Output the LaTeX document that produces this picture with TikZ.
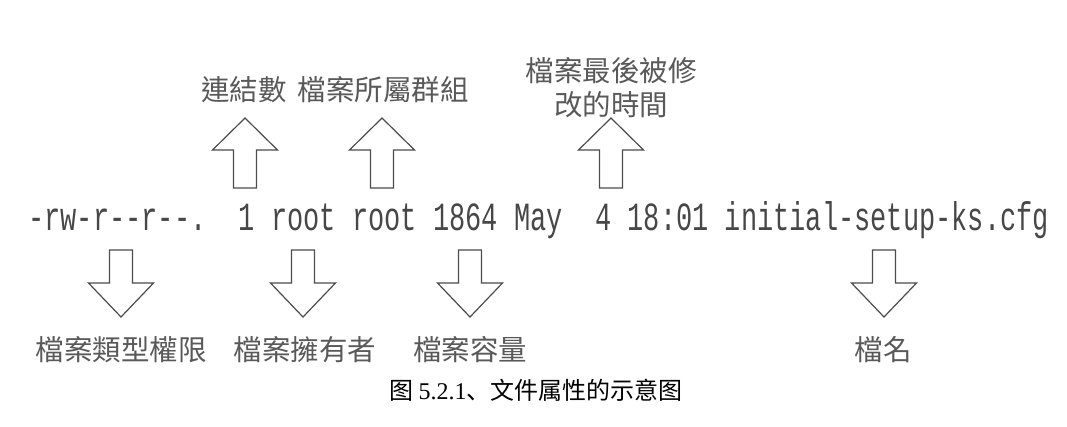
\documentclass[tikz,border=0pt]{standalone}
\usepackage{fontspec}
\usepackage{tikz}
\newfontfamily\tcfont{Noto Sans CJK TC}
\newfontfamily\scfont{Noto Sans CJK SC}
\newfontfamily\lsfont[FakeStretch=0.675]{Liberation Mono}
\newfontfamily\capnum{Liberation Serif}

\tikzset{
  lbl/.style={font=\tcfont\fontsize{28.5}{34}\selectfont, text=black!65, inner sep=0pt, align=center},
  blk/.style={draw=black!70, fill=white, line width=1.2pt, line join=miter},
  uparr/.pic={\draw[blk] (0,0) -- (32.5,32) -- (11.5,32) -- (11.5,70) -- (-11.5,70) -- (-11.5,32) -- (-32.5,32) -- cycle;},
  downarr/.pic={\draw[blk] (0,0) -- (32.5,-34) -- (11.5,-34) -- (11.5,-67) -- (-11.5,-67) -- (-11.5,-34) -- (-32.5,-34) -- cycle;}
}

\begin{document}
\begin{tikzpicture}[x=1pt, y=-1pt]
			\useasboundingbox (0,0) rectangle (1067,426);
			
			% The ls -l line
			\node[anchor=base west, inner sep=0pt, text=black!72, font=\lsfont\fontsize{40}{40}\selectfont] (line) at (28,230) {-rw-r-{}-r-{}-.\ \ 1 root root 1864 May\ \ 4 18:01 initial-setup-ks.cfg};
			
			% Arrow tips
			\coordinate (lnkTip) at (245,118);
			\coordinate (grpTip) at (382,118);
			\coordinate (timeTip) at (611,118);
			\coordinate (permTip) at (121,317);
			\coordinate (ownTip) at (303,317);
			\coordinate (sizeTip) at (470,317);
			\coordinate (nameTip) at (884,317);
			
			% Labels above
			\node[lbl] (lnk) at (244,90) {連結數};
			\node[lbl] (grp) at (383,90) {檔案所屬群組};
			\node[lbl] (mtime) at (611,88) {檔案最後被修\\改的時間};
			
			% Labels below
			\node[lbl] (perm) at (121,350) {檔案類型權限};
			\node[lbl] (own) at (305,350) {檔案擁有者};
			\node[lbl] (size) at (470,350) {檔案容量};
			\node[lbl] (fname) at (883,350) {檔名};
			
			% Block arrows
			\pic at (lnkTip) {uparr};
			\pic at (grpTip) {uparr};
			\pic at (timeTip) {uparr};
			\pic at (permTip) {downarr};
			\pic at (ownTip) {downarr};
			\pic at (sizeTip) {downarr};
			\pic at (nameTip) {downarr};
			
			% Caption
			\node[inner sep=0pt, font=\fontsize{24}{24}\selectfont] (cap) at (536,390) {\scfont 图 \capnum 5.2.1\scfont 、文件属性的示意图};
			
\end{tikzpicture}
\end{document}
